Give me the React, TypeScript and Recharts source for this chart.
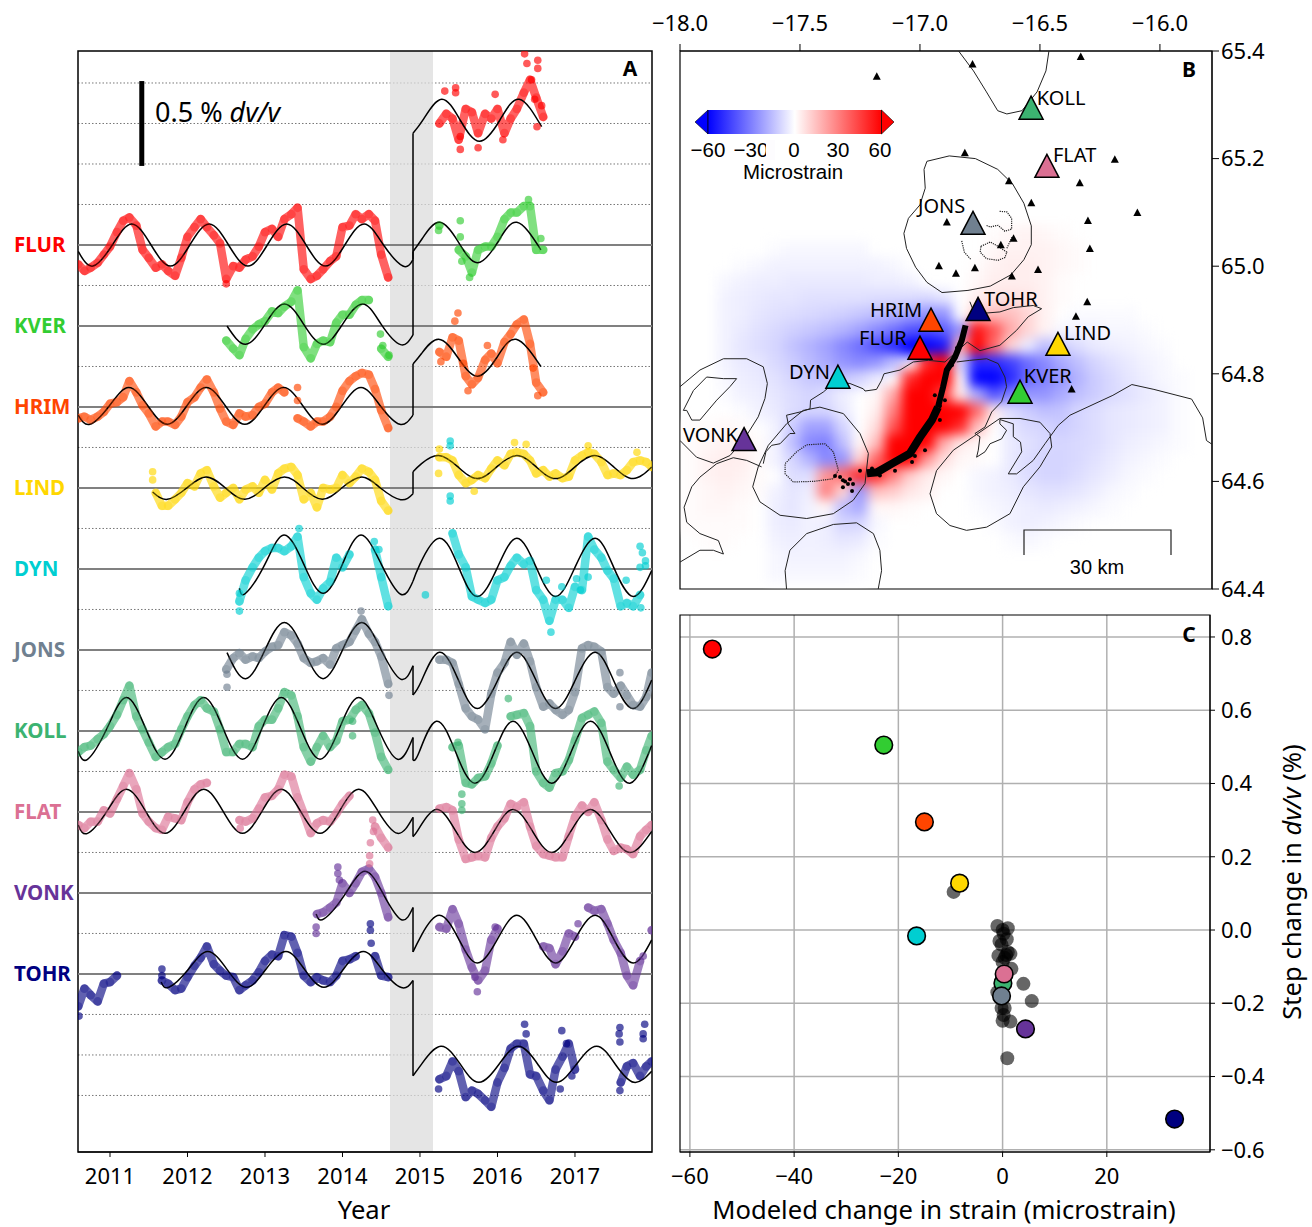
import React from "react";
import {
  LineChart, Line, XAxis, YAxis, CartesianGrid, ReferenceLine, ReferenceArea,
  ScatterChart, Scatter,
} from "recharts";

const FONT = "'Noto Sans', sans-serif";
const n = null;

// ---------- panel A: dv/v time series ----------
const stations = ["FLUR", "KVER", "HRIM", "LIND", "DYN", "JONS", "KOLL", "FLAT", "VONK", "TOHR"];
const stationColors = ["#ff0000", "#32cd32", "#ff4500", "#ffd700", "#00ced1", "#708090", "#3cb371", "#db7093", "#663399", "#000080"];
const stationOffsets = [0, -0.5, -1, -1.5, -2, -2.5, -3, -3.5, -4, -4.5];
const dottedLevels = [1, 0.75, 0.5, 0.25, -0.25, -0.75, -1.25, -1.75, -2.25, -2.75, -3.25, -3.75, -4.25, -4.75, -5, -5.25];
const yearTicks = [2011, 2012, 2013, 2014, 2015, 2016, 2017];

const monthsPre = [
  2010.59, 2010.67, 2010.75, 2010.84, 2010.92, 2011.0, 2011.09, 2011.17, 2011.25, 2011.34, 2011.42, 2011.5,
  2011.59, 2011.67, 2011.75, 2011.84, 2011.92, 2012.0, 2012.09, 2012.17, 2012.25, 2012.34, 2012.42, 2012.5,
  2012.59, 2012.67, 2012.75, 2012.84, 2012.92, 2013.0, 2013.09, 2013.17, 2013.25, 2013.34, 2013.42, 2013.5,
  2013.59, 2013.67, 2013.75, 2013.84, 2013.92, 2014.0, 2014.09, 2014.17, 2014.25, 2014.34, 2014.42, 2014.5, 2014.59,
];
const monthsPost = [
  2015.25, 2015.34, 2015.42, 2015.5, 2015.59, 2015.67, 2015.75, 2015.84, 2015.92,
  2016.0, 2016.09, 2016.17, 2016.25, 2016.34, 2016.42, 2016.5, 2016.59, 2016.67, 2016.75, 2016.84, 2016.92,
  2017.0, 2017.09, 2017.17, 2017.25, 2017.34, 2017.42, 2017.5, 2017.59, 2017.67, 2017.75, 2017.84, 2017.92, 2017.99,
];

const FLUR_PRE = [-.12,-.16,-.14,-.11,-.06,-.01,.08,.15,.17,.12,-.03,-.08,-.14,-.12,-.16,-.19,-.08,.05,.11,.16,.11,.06,.01,-.21,-.13,-.14,-.09,-.07,-.01,.08,.10,.05,.16,.19,.23,-.15,-.21,-.19,-.15,-.10,-.07,.11,.12,.19,.16,.19,.15,-.06,-.20];
const FLUR_POST = [.75,.81,.78,.65,.84,.82,.69,.81,.78,.84,.69,.78,.84,.94,1.02,.91,.79];
const KVER_PRE = [n,n,n,n,n,n,n,n,n,n,n,n,n,n,n,n,n,n,n,n,n,n,n,-.09,-.14,-.18,-.08,-.02,.01,.03,.09,.08,.12,.15,.22,-.13,-.20,-.11,-.09,-.10,.02,.07,.07,.13,.16,.16,n,-.14,-.19];
const KVER_POST = [.62,n,n,.47,.43,.33,.47,.49,.49,.55,.66,.70,.70,.74,.74,.47,.47];
const HRIM_PRE = [-.07,-.06,-.08,-.06,-.03,.02,.03,.06,.16,.09,.01,-.04,-.12,-.09,-.09,-.11,-.06,.03,.06,.12,.17,.09,-.01,-.09,-.11,-.04,-.06,-.05,0,.02,.09,.12,.09,n,-.07,-.09,-.12,-.09,-.09,-.06,0,.10,.16,.19,.21,.20,.11,-.02,-.13];
const HRIM_POST = [.34,.31,.43,.41,.19,.14,.18,.29,.33,.27,.40,.45,.51,.54,.39,.15,.09];
const LIND_PRE = [n,n,n,n,n,n,n,n,n,n,n,n,-.03,-.11,-.11,-.07,-.03,.03,.01,.09,.11,.01,-.06,-.03,0,-.07,-.01,.01,-.03,.05,-.01,.09,.12,.13,.08,-.07,-.03,-.12,0,-.01,0,.08,.03,.07,.12,.10,.05,-.08,-.14];
const LIND_POST = [.19,.19,.17,.08,.03,.05,.08,.06,.12,.17,.14,.21,.22,.21,.17,.09,.11,.07,.09,.06,.07,.17,.20,.22,.21,.16,.08,.09,.08,.11,.16,.17,.16,.13];
const DYN_PRE = [n,n,n,n,n,n,n,n,n,n,n,n,n,n,n,n,n,n,n,n,n,n,n,n,n,-.20,-.07,.01,.07,.11,.13,.13,.11,.14,.20,-.05,-.15,-.19,-.12,-.08,.07,.01,.09,n,n,n,.12,-.05,-.23];
const DYN_POST = [n,n,.22,.09,.01,-.17,-.19,-.21,-.19,-.07,-.05,.02,.07,.03,.05,-.13,-.19,-.32,-.19,-.19,-.24,-.11,-.13,.20,.12,.07,-.01,-.06,-.23,-.21,-.23,-.16];
const JONS_PRE = [n,n,n,n,n,n,n,n,n,n,n,n,n,n,n,n,n,n,n,n,n,n,n,-.12,-.05,-.02,-.06,-.04,-.05,-.01,.02,.03,.11,.09,.04,-.05,-.08,-.07,-.05,-.09,.01,.03,.05,.12,.19,.10,.05,-.04,-.21];
const JONS_POST = [-.06,-.06,-.08,-.21,-.36,-.41,-.43,-.49,-.27,-.14,-.08,.05,-.03,.04,-.07,-.23,-.35,-.33,-.37,-.40,-.37,-.26,.01,.03,.02,-.01,-.23,-.27,-.22,-.28,-.34,-.35,-.29,-.14];
const KOLL_PRE = [-.13,-.10,-.09,-.05,-.02,.03,.10,.19,.28,.09,.01,-.07,-.16,-.13,-.10,-.08,.01,.09,.16,.19,.14,.12,.01,-.13,-.13,-.08,-.08,-.10,.03,.07,.07,.14,.24,.22,.09,-.10,-.19,-.10,-.03,-.10,-.06,.06,.07,.13,.16,.11,-.01,-.16,-.24];
const KOLL_POST = [n,n,-.10,-.09,-.32,-.33,-.29,-.28,-.20,-.09,n,.09,.10,.11,.03,-.25,-.32,-.35,-.26,-.25,-.18,-.06,.08,.10,.12,.05,-.19,-.24,-.29,-.22,-.27,-.24,-.12,-.03];
const FLAT_PRE = [-.08,-.10,-.06,-.06,.01,-.01,.08,.16,.24,.14,-.01,-.06,-.10,-.11,-.03,-.04,-.05,.06,.14,.17,.18,n,n,n,n,-.05,-.06,-.04,.02,.09,.10,.14,.23,.22,.09,-.01,-.13,-.07,-.05,-.06,-.01,.05,.10,n,n,n,-.09,-.16,-.22];
const FLAT_POST = [.02,.03,.01,-.17,-.29,-.28,-.27,-.28,-.16,-.09,-.04,.05,.03,.06,-.09,-.21,-.26,-.27,-.28,-.28,-.15,-.03,.04,0,.06,-.05,-.17,-.24,-.22,-.23,-.26,-.15,-.11,-.08];
const VONK_PRE = [n,n,n,n,n,n,n,n,n,n,n,n,n,n,n,n,n,n,n,n,n,n,n,n,n,n,n,n,n,n,n,n,n,n,n,n,n,-.13,-.12,-.09,-.06,.06,0,.06,.13,.15,.10,0,-.15];
const VONK_POST = [-.21,-.22,-.10,-.19,-.35,-.46,-.54,-.48,-.29,-.22,n,n,n,n,n,n,-.33,-.34,-.44,-.36,-.25,-.27,n,-.09,-.11,-.10,-.19,-.29,-.37,-.51,-.57,-.42,n,-.23];
const TOHR_PRE = [-.20,-.09,-.13,-.17,-.06,-.05,-.01,n,n,n,n,n,n,-.04,-.06,-.10,-.09,-.02,.05,.10,.17,.06,.02,-.01,-.02,-.10,-.07,-.04,.01,.08,.12,.11,.24,.23,.13,-.01,-.05,-.02,-.04,-.05,-.01,.08,.09,.11,n,n,.11,-.01,-.02];
const TOHR_POST = [-.65,-.63,-.54,-.60,-.76,-.72,-.74,-.78,-.82,-.67,-.58,-.46,-.43,-.43,-.62,-.63,-.72,-.78,-.59,-.51,-.43,-.59,n,n,n,n,n,n,-.67,-.57,-.55,-.63,-.57,-.54];

// points that sit off the main trace of each station
const FLUR_EXTRA = [[2015.32,.95],[2015.46,.97],[2015.46,.94],[2015.52,.59],[2015.52,.67],[2015.75,.60],[2016.35,1.18],[2016.38,1.12],[2016.52,1.14],[2016.52,1.09],[2016.57,.86],[2016.51,.73],[2015.97,.93],[2016.07,.65],[2016.44,1.02],[2016.48,.9],[2012.5,-.24]];
const KVER_EXTRA = [[2014.49,-.05],[2015.52,.65],[2015.52,.55],[2015.54,.40],[2015.24,.59],[2016.56,.54],[2015.64,.30],[2016.4,.78],[2014.52,-.12],[2014.6,-.18]];
const HRIM_EXTRA = [[2013.42,.12],[2013.42,.04],[2015.27,.28],[2015.45,.53],[2015.49,.58],[2016.46,.24],[2015.62,.10],[2015.87,.38],[2015.56,.27],[2016.52,.07]];
const LIND_EXTRA = [[2011.55,.10],[2011.55,.05],[2015.24,.09],[2015.70,-.02],[2016.22,.28],[2016.37,.27],[2015.25,.24],[2017.17,.26],[2017.8,.22]];
const DYN_EXTRA = [[2012.67,-.26],[2012.67,-.15],[2013.44,.25],[2014.41,.17],[2014.47,.12],[2015.39,.79],[2015.39,.76],[2015.39,.45],[2015.39,.42],[2017.17,-.05],[2017.66,-.07],[2017.84,.14],[2017.87,.10],[2017.91,.05],[2017.84,.01],[2017.91,.02],[2017.85,-.24],[2016.63,-.07],[2016.83,-.11],[2017.02,-.06],[2017.07,-.13],[2016.69,-.39],[2015.07,-.16]];
const JONS_EXTRA = [[2012.51,-.23],[2012.51,-.15],[2014.24,.24],[2014.6,-.28],[2017.58,-.14],[2017.58,-.35]];
const KOLL_EXTRA = [[2014.13,.06],[2014.13,-.03],[2016.14,.20],[2015.54,-.39],[2015.54,-.45],[2015.54,-.49],[2017.57,-.34],[2015.49,-.07]];
const FLAT_EXTRA = [[2014.39,-.05],[2014.36,-.19],[2014.35,-.27],[2014.35,-.32],[2014.4,-.12],[2012.68,-.10]];
const VONK_EXTRA = [[2013.94,.16],[2013.94,.12],[2013.96,.08],[2013.66,-.21],[2013.66,-.25],[2017.04,-.19],[2015.74,-.61],[2015.97,-.21],[2017.88,-.39],[2015.71,-.52]];
const TOHR_EXTRA = [[2011.67,.03],[2011.67,-.01],[2010.6,-.26],[2014.36,.31],[2014.36,.27],[2014.37,.19],[2016.35,-.31],[2016.37,-.37],[2016.81,-.71],[2016.83,-.35],[2016.89,-.43],[2016.96,-.63],[2017.58,-.33],[2017.57,-.37],[2017.58,-.42],[2017.9,-.31],[2017.88,-.37],[2017.88,-.40],[2017.58,-.72],[2015.24,-.71]];

// seasonal model, before and after the step
const FLUR_FIT_PRE = [[2010.59,-.04],[2010.78,-.13],[2011.03,0],[2011.28,.13],[2011.53,0],[2011.78,-.13],[2012.03,0],[2012.28,.13],[2012.53,0],[2012.78,-.13],[2013.03,0],[2013.28,.13],[2013.53,0],[2013.78,-.13],[2014.03,0],[2014.28,.13],[2014.53,0],[2014.78,-.13],[2014.91,-.09]];
const FLUR_FIT_POST = [[2014.91,.69],[2015.05,.78],[2015.28,.90],[2015.52,.77],[2015.77,.64],[2016.03,.77],[2016.28,.90],[2016.57,.73]];
const KVER_FIT_PRE = [[2012.51,0],[2012.75,-.113],[2013.0,.01],[2013.25,.136],[2013.5,.01],[2013.75,-.113],[2014.0,.01],[2014.26,.136],[2014.5,.01],[2014.75,-.115],[2014.91,-.055]];
const KVER_FIT_POST = [[2014.91,.46],[2015.03,.54],[2015.25,.64],[2015.5,.515],[2015.74,.39],[2016.0,.515],[2016.25,.64],[2016.56,.47]];
const HRIM_FIT_PRE = [[2010.59,-.05],[2010.74,-.107],[2010.99,.006],[2011.24,.12],[2011.49,.006],[2011.74,-.107],[2011.99,.006],[2012.24,.12],[2012.49,.006],[2012.74,-.107],[2012.99,.006],[2013.24,.12],[2013.49,.006],[2013.74,-.107],[2013.99,.006],[2014.24,.12],[2014.49,.006],[2014.74,-.107],[2014.91,-.05]];
const HRIM_FIT_POST = [[2014.91,.265],[2015.02,.33],[2015.24,.418],[2015.49,.304],[2015.74,.19],[2015.99,.304],[2016.24,.418],[2016.56,.25]];
const LIND_FIT_PRE = [[2011.55,-.025],[2011.74,-.07],[2011.99,0],[2012.24,.068],[2012.49,0],[2012.74,-.07],[2012.99,0],[2013.25,.068],[2013.49,0],[2013.74,-.07],[2013.99,0],[2014.25,.068],[2014.49,0],[2014.75,-.072],[2014.91,-.035]];
const LIND_FIT_POST = [[2014.91,.10],[2015.02,.15],[2015.24,.20],[2015.49,.13],[2015.74,.058],[2015.99,.13],[2016.25,.20],[2016.5,.13],[2016.75,.058],[2017.0,.13],[2017.25,.20],[2017.5,.13],[2017.75,.058],[2017.99,.13]];
const DYN_FIT_PRE = [[2012.67,-.12],[2012.75,-.15],[2013.0,.03],[2013.245,.21],[2013.5,.03],[2013.75,-.15],[2014.0,.03],[2014.24,.21],[2014.5,.03],[2014.75,-.156],[2014.91,-.076]];
const DYN_FIT_POST = [[2014.91,-.076],[2015.0,.03],[2015.25,.19],[2015.5,.01],[2015.74,-.17],[2016.0,.01],[2016.25,.19],[2016.5,.01],[2016.75,-.17],[2017.0,.01],[2017.26,.19],[2017.5,.01],[2017.75,-.17],[2017.99,-.01]];
const JONS_FIT_PRE = [[2012.51,-.016],[2012.75,-.177],[2013.0,0],[2013.25,.17],[2013.5,0],[2013.75,-.177],[2014.0,0],[2014.25,.17],[2014.5,0],[2014.75,-.18],[2014.91,-.097]];
const JONS_FIT_POST = [[2014.91,-.278],[2015.02,-.19],[2015.25,-.014],[2015.5,-.19],[2015.74,-.362],[2016.0,-.19],[2016.25,-.014],[2016.5,-.19],[2016.75,-.362],[2017.0,-.19],[2017.26,-.014],[2017.5,-.19],[2017.75,-.362],[2017.99,-.185]];
const KOLL_FIT_PRE = [[2010.59,-.125],[2010.71,-.175],[2010.96,.015],[2011.21,.206],[2011.46,.015],[2011.71,-.175],[2011.96,.015],[2012.21,.206],[2012.46,.015],[2012.71,-.175],[2012.96,.015],[2013.21,.206],[2013.46,.015],[2013.71,-.175],[2013.96,.015],[2014.21,.206],[2014.46,.015],[2014.71,-.175],[2014.91,-.04]];
const KOLL_FIT_POST = [[2014.91,-.18],[2014.99,-.13],[2015.21,.06],[2015.46,-.13],[2015.71,-.323],[2015.96,-.13],[2016.2,.06],[2016.45,-.13],[2016.7,-.323],[2016.95,-.13],[2017.2,.06],[2017.45,-.13],[2017.71,-.323],[2017.99,-.09]];
const FLAT_FIT_PRE = [[2010.59,-.08],[2010.71,-.132],[2010.96,.004],[2011.21,.14],[2011.46,.004],[2011.71,-.132],[2011.96,.004],[2012.21,.14],[2012.46,.004],[2012.71,-.132],[2012.96,.004],[2013.21,.14],[2013.46,.004],[2013.71,-.132],[2013.96,.004],[2014.21,.14],[2014.46,.004],[2014.71,-.132],[2014.91,-.033]];
const FLAT_FIT_POST = [[2014.91,-.152],[2014.99,-.10],[2015.21,.016],[2015.46,-.117],[2015.71,-.25],[2015.96,-.117],[2016.2,.016],[2016.45,-.117],[2016.7,-.25],[2016.95,-.117],[2017.2,.016],[2017.45,-.117],[2017.71,-.25],[2017.99,-.12]];
const VONK_FIT_PRE = [[2013.66,-.13],[2013.76,-.16],[2014.03,-.01],[2014.29,.134],[2014.53,-.01],[2014.76,-.165],[2014.91,-.09]];
const VONK_FIT_POST = [[2014.91,-.364],[2015.02,-.26],[2015.25,-.138],[2015.5,-.285],[2015.74,-.432],[2016.0,-.285],[2016.25,-.138],[2016.5,-.285],[2016.75,-.432],[2017.0,-.285],[2017.26,-.138],[2017.5,-.285],[2017.75,-.432],[2017.99,-.29]];
const TOHR_FIT_PRE = [[2011.66,-.05],[2011.76,-.082],[2012.01,.028],[2012.26,.138],[2012.51,.028],[2012.76,-.082],[2013.01,.028],[2013.27,.138],[2013.51,.028],[2013.76,-.082],[2014.01,.028],[2014.27,.138],[2014.51,.028],[2014.76,-.084],[2014.91,-.04]];
const TOHR_FIT_POST = [[2014.91,-.628],[2015.03,-.55],[2015.27,-.446],[2015.52,-.557],[2015.76,-.669],[2016.02,-.557],[2016.27,-.446],[2016.52,-.557],[2016.76,-.669],[2017.02,-.557],[2017.28,-.446],[2017.52,-.557],[2017.76,-.669],[2017.99,-.60]];

const preSeries = [FLUR_PRE, KVER_PRE, HRIM_PRE, LIND_PRE, DYN_PRE, JONS_PRE, KOLL_PRE, FLAT_PRE, VONK_PRE, TOHR_PRE];
const postSeries = [FLUR_POST, KVER_POST, HRIM_POST, LIND_POST, DYN_POST, JONS_POST, KOLL_POST, FLAT_POST, VONK_POST, TOHR_POST];
const extraSeries = [FLUR_EXTRA, KVER_EXTRA, HRIM_EXTRA, LIND_EXTRA, DYN_EXTRA, JONS_EXTRA, KOLL_EXTRA, FLAT_EXTRA, VONK_EXTRA, TOHR_EXTRA];
const fitPre = [FLUR_FIT_PRE, KVER_FIT_PRE, HRIM_FIT_PRE, LIND_FIT_PRE, DYN_FIT_PRE, JONS_FIT_PRE, KOLL_FIT_PRE, FLAT_FIT_PRE, VONK_FIT_PRE, TOHR_FIT_PRE];
const fitPost = [FLUR_FIT_POST, KVER_FIT_POST, HRIM_FIT_POST, LIND_FIT_POST, DYN_FIT_POST, JONS_FIT_POST, KOLL_FIT_POST, FLAT_FIT_POST, VONK_FIT_POST, TOHR_FIT_POST];

// the rows are stacked by adding each station's offset
const makeRow = (t: number, series: any[], idx: number) => {
  const row: any = { t };
  stations.forEach((s, k) => {
    const v = series[k][idx];
    row[s] = v === null || v === undefined ? null : v + stationOffsets[k];
  });
  return row;
};
const gapRow = { t: 2014.9 };
const tableA = [
  ...monthsPre.map((t, i) => makeRow(t, preSeries, i)),
  gapRow,
  ...monthsPost.map((t, i) => makeRow(t, postSeries, i)),
];
const stacked = (pairs: number[][], k: number) => pairs.map(([t, v]) => ({ t, v: v + stationOffsets[k] }));

function StationTick(props: any) {
  const k = Math.round(-props.payload.value * 2);
  return (
    <text x={14} y={props.y - 1} dominantBaseline="central" fontFamily={FONT} fontWeight={700} fontSize={20.5} fill={stationColors[k]}>
      {stations[k]}
    </text>
  );
}

function PanelA() {
  const tick = { fontFamily: FONT, fontSize: 22, fill: "#000" };
  return (
    <LineChart width={660} height={1227} data={tableA} margin={{ top: 51, right: 8, bottom: 0, left: 0 }} style={{ position: "absolute", left: 0, top: 0 }}>
      <XAxis dataKey="t" type="number" domain={[2010.587, 2017.994]} allowDataOverflow ticks={yearTicks} tick={tick} tickSize={5} tickMargin={11} height={75} stroke="#000" />
      <YAxis type="number" domain={[-5.599, 1.1975]} allowDataOverflow ticks={stationOffsets} interval={0} tick={<StationTick />} tickLine={false} axisLine={false} width={78} />
      <CartesianGrid vertical={false} horizontalValues={dottedLevels} stroke="#777" strokeDasharray="1.5 2" />
      {stationOffsets.map((y) => (
        <ReferenceLine key={y} y={y} stroke="#808080" strokeWidth={2} />
      ))}
      {stations.map((s, k) => (
        <Line key={s} dataKey={s} type="linear" stroke={stationColors[k]} strokeOpacity={0.62} strokeWidth={8.5} strokeLinecap="round" strokeLinejoin="round" dot={{ r: 4.4, fill: stationColors[k], fillOpacity: 0.3, stroke: "none" }} connectNulls={false} isAnimationActive={false} />
      ))}
      {stations.map((s, k) => (
        <Line key={s + "x"} data={stacked(extraSeries[k], k)} dataKey="v" type="linear" stroke="none" dot={{ r: 3.8, fill: stationColors[k], fillOpacity: 0.65, stroke: "none" }} isAnimationActive={false} />
      ))}
      {stations.map((s, k) => {
        const pre = stacked(fitPre[k], k);
        const post = stacked(fitPost[k], k);
        return [
          <Line key={s + "a"} data={pre} dataKey="v" type="natural" stroke="#000" strokeWidth={1.5} dot={false} isAnimationActive={false} />,
          <Line key={s + "b"} data={[pre[pre.length - 1], post[0]]} dataKey="v" type="linear" stroke="#000" strokeWidth={1.5} dot={false} isAnimationActive={false} />,
          <Line key={s + "c"} data={post} dataKey="v" type="natural" stroke="#000" strokeWidth={1.5} dot={false} isAnimationActive={false} />,
        ];
      })}
      <ReferenceLine segment={[{ x: 2011.41, y: 1.012 }, { x: 2011.41, y: 0.488 }]} stroke="#000" strokeWidth={5} />
      <ReferenceArea x1={2014.613} x2={2015.168} y1={-5.599} y2={1.1975} fill="#dcdcdc" fillOpacity={0.75} stroke="none" />
      <ReferenceArea x1={2010.587} x2={2017.994} y1={-5.599} y2={1.1975} fill="none" stroke="#000" strokeWidth={1.5} />
    </LineChart>
  );
}

// ---------- panel B: map ----------
const lonTicks = [-18, -17.5, -17, -16.5, -16];
const latTicks = [64.4, 64.6, 64.8, 65.0, 65.2, 65.4];

const gridLons = [-17.95,-17.88,-17.81,-17.74,-17.67,-17.6,-17.53,-17.46,-17.39,-17.32,-17.25,-17.18,-17.11,-17.04,-16.97,-16.9,-16.83,-16.76,-16.69,-16.62,-16.55,-16.48,-16.41,-16.34,-16.27,-16.2,-16.13,-16.06,-15.99,-15.92,-15.85];
const gridLats = [65.06,65.03,65.0,64.97,64.94,64.91,64.88,64.85,64.82,64.79,64.76,64.73,64.7,64.67,64.64,64.61,64.58,64.55,64.52,64.49,64.46,64.43];
const strainRows = [
  [0,0,0,0,0,0,0,0,0,0,0,0,0,0,0,0,0,0,1,2,3,2,1,0,0,0,0,0,0,0,0],
  [0,0,0,0,0,-1,-2,-2,-2,-2,-2,0,0,0,0,0,0,0,2,3,3,3,2,1,0,0,0,0,0,0,0],
  [0,0,0,-1,-2,-3,-3,-3,-3,-3,-3,-3,-2,0,0,0,0,1,3,4,4,3,2,1,0,0,0,0,0,0,0],
  [0,0,-2,-3,-4,-4,-5,-5,-5,-5,-5,-4,-4,-3,0,0,0,2,4,4,4,3,1,0,0,0,0,0,0,0,0],
  [0,0,-3,-4,-5,-6,-6,-7,-7,-7,-7,-8,-8,-8,-9,-6,0,4,6,7,6,3,1,0,0,0,0,0,0,0,0],
  [0,0,-3,-4,-6,-7,-8,-9,-10,-11,-13,-15,-18,-22,-25,-25,0,12,15,15,10,3,0,-1,-1,-1,-1,0,0,0,0],
  [0,0,-3,-5,-7,-9,-11,-13,-15,-18,-22,-27,-33,-40,-42,-38,-25,55,40,20,10,3,-2,-3,-3,-2,-2,-1,0,0,0],
  [0,0,-3,-6,-8,-10,-14,-18,-22,-28,-34,-42,-50,-60,-60,-55,20,60,35,10,-5,-15,-12,-8,-5,-4,-3,-2,-1,0,0],
  [0,0,-3,-5,-6,-9,-12,-16,-20,-25,-28,-25,-15,0,50,60,-10,-50,-50,-45,-35,-28,-20,-15,-10,-7,-5,-3,-2,0,0],
  [0,0,-2,-4,-5,-7,-10,-13,-14,-14,-10,-5,0,50,60,60,0,-60,-60,-50,-35,-30,-25,-18,-12,-9,-6,-4,-2,-1,0],
  [0,0,-1,-3,-4,-6,-8,-10,-8,-4,0,2,20,60,60,45,5,-20,-40,-30,-25,-25,-20,-15,-12,-9,-7,-5,-3,-1,0],
  [0,0,0,-1,-3,-5,-8,-10,-10,-5,0,4,30,60,60,60,60,35,5,-8,-12,-15,-14,-10,-8,-6,-5,-4,-3,-1,0],
  [1,1,2,1,0,-3,-12,-22,-22,-10,0,8,40,60,60,60,50,15,0,-6,-9,-10,-12,-10,-8,-6,-5,-4,-3,-1,0],
  [1,2,3,3,1,-3,-15,-28,-30,-15,2,15,60,60,60,20,5,2,0,-5,-7,-9,-10,-9,-8,-6,-4,-3,-2,-1,0],
  [1,3,4,4,1,-3,-10,-18,-28,-25,10,35,60,60,25,8,2,1,0,-5,-8,-10,-10,-9,-7,-5,-3,-2,-1,0,0],
  [1,3,4,3,1,0,-8,-8,25,35,50,50,30,12,5,2,0,-2,-3,-5,-8,-10,-10,-8,-6,-4,-2,-1,0,0,0],
  [1,2,3,2,1,-3,-6,-4,30,10,-25,15,12,6,3,0,0,-2,-3,-4,-6,-7,-7,-6,-4,-2,-1,0,0,0,0],
  [1,2,2,1,0,-4,-6,-3,2,-15,-20,2,2,1,0,0,0,-1,-2,-3,-4,-5,-4,-3,-2,-1,0,0,0,0,0],
  [1,1,1,1,0,-4,-5,-3,-4,-10,-10,-2,0,0,0,0,0,0,-1,-3,-4,-3,-2,-1,0,0,0,0,0,0,0],
  [0,1,1,0,0,-3,-4,-3,-4,-6,-5,-1,0,0,0,0,0,0,0,-1,-2,-1,0,0,0,0,0,0,0,0,0],
  [0,0,0,0,0,-2,-3,-3,-3,-3,-2,0,0,0,0,0,0,0,0,0,0,0,0,0,0,0,0,0,0,0,0],
  [0,0,0,0,0,-2,-2,-2,-2,-2,-1,0,0,0,0,0,0,0,0,0,0,0,0,0,0,0,0,0,0,0,0],
];
const heatCells = strainRows.flatMap((row, r) =>
  row.map((strain, c) => ({ lon: gridLons[c], lat: gridLats[r], strain })).filter((d) => d.strain !== 0),
);
const strainColor = (v: number) => {
  const f = Math.round(255 * (1 - Math.min(Math.abs(v), 60) / 60));
  return v < 0 ? `rgb(${f},${f},255)` : `rgb(255,${f},${f})`;
};

// outlines, [lon, lat]
const NORTH_GLACIER = [[-16.839,65.4],[-16.777,65.363],[-16.723,65.324],[-16.676,65.289],[-16.638,65.283],[-16.575,65.289],[-16.512,65.324],[-16.475,65.363],[-16.4625,65.4]];
const ASKJA_RING = [[-16.971,65.195],[-16.878,65.205],[-16.769,65.2],[-16.676,65.18],[-16.614,65.153],[-16.567,65.117],[-16.536,65.075],[-16.536,65.04],[-16.567,65.012],[-16.621,64.984],[-16.707,64.963],[-16.8,64.955],[-16.908,64.951],[-16.971,64.97],[-17.018,64.998],[-17.056,65.033],[-17.067,65.061],[-17.048,65.089],[-17.0,65.114],[-16.978,65.145],[-16.983,65.18],[-16.971,65.195]];
const ICE_EDGE = [[-17.653,64.633],[-17.642,64.655],[-17.618,64.667],[-17.583,64.67],[-17.542,64.689],[-17.521,64.689],[-17.549,64.707],[-17.556,64.723],[-17.5,64.729],[-17.458,64.735],[-17.456,64.751],[-17.403,64.766],[-17.354,64.785],[-17.292,64.782],[-17.236,64.772],[-17.229,64.768],[-17.181,64.771],[-17.16,64.788],[-17.15,64.8],[-17.083,64.807],[-17.028,64.822],[-16.965,64.825],[-16.896,64.822],[-16.847,64.841],[-16.803,64.859],[-16.75,64.843],[-16.667,64.853],[-16.597,64.881],[-16.549,64.906],[-16.493,64.921],[-16.528,64.927],[-16.611,64.923],[-16.667,64.915],[-16.722,64.913],[-16.778,64.918],[-16.792,64.934]];
const KVERK_EDGE = [[-16.847,64.822],[-16.792,64.825],[-16.722,64.828],[-16.674,64.819],[-16.646,64.794],[-16.639,64.776],[-16.66,64.748],[-16.701,64.729],[-16.729,64.701],[-16.771,64.689],[-16.75,64.683],[-16.757,64.658],[-16.764,64.645],[-16.729,64.655],[-16.708,64.67],[-16.66,64.679],[-16.639,64.695],[-16.667,64.707],[-16.667,64.715],[-16.611,64.707],[-16.611,64.683],[-16.581,64.673],[-16.576,64.655],[-16.632,64.614],[-16.597,64.614],[-16.528,64.639],[-16.479,64.67],[-16.424,64.704],[-16.375,64.723],[-16.196,64.76],[-16.117,64.78],[-16.025,64.771],[-15.868,64.753],[-15.822,64.718],[-15.806,64.676],[-15.783,64.669]];
const SOUTH_LOOP = [[-16.667,64.717],[-16.583,64.717],[-16.5,64.71],[-16.458,64.689],[-16.451,64.664],[-16.5,64.627],[-16.569,64.59],[-16.625,64.54],[-16.722,64.515],[-16.806,64.509],[-16.875,64.518],[-16.931,64.54],[-16.958,64.577],[-16.931,64.62],[-16.861,64.658],[-16.778,64.683],[-16.667,64.717]];
const BARD_RING = [[-17.417,64.738],[-17.319,64.726],[-17.25,64.689],[-17.215,64.652],[-17.229,64.596],[-17.278,64.565],[-17.361,64.54],[-17.472,64.531],[-17.583,64.537],[-17.667,64.562],[-17.697,64.59],[-17.674,64.627],[-17.632,64.667],[-17.556,64.707],[-17.486,64.732],[-17.417,64.738]];
const BOTTOM_RING = [[-17.556,64.4],[-17.562,64.434],[-17.542,64.472],[-17.472,64.503],[-17.361,64.52],[-17.264,64.523],[-17.194,64.503],[-17.167,64.472],[-17.16,64.434],[-17.174,64.4]];
const WEST_RING = [[-18,64.776],[-17.917,64.807],[-17.819,64.828],[-17.722,64.828],[-17.653,64.813],[-17.636,64.782],[-17.646,64.754],[-17.674,64.72],[-17.736,64.676],[-17.792,64.648],[-17.861,64.634],[-17.931,64.645],[-18,64.676]];
const WEST_INNER = [[-17.986,64.732],[-17.944,64.769],[-17.889,64.794],[-17.819,64.791],[-17.764,64.791],[-17.792,64.776],[-17.847,64.751],[-17.917,64.714],[-17.951,64.714],[-17.972,64.732],[-17.986,64.732]];
const WEST_COAST = [[-17.66,64.627],[-17.722,64.639],[-17.778,64.644],[-17.847,64.633],[-17.917,64.608],[-17.951,64.59],[-17.983,64.552],[-17.972,64.524],[-17.917,64.503],[-17.84,64.49],[-17.819,64.465],[-17.861,64.472],[-17.917,64.472],[-18,64.45]];
const outlines = [NORTH_GLACIER, ASKJA_RING, ICE_EDGE, KVERK_EDGE, SOUTH_LOOP, BARD_RING, BOTTOM_RING, WEST_RING, WEST_INNER, WEST_COAST];

const BARD_CALDERA = [[-17.472,64.668],[-17.396,64.67],[-17.361,64.655],[-17.34,64.621],[-17.361,64.605],[-17.444,64.6],[-17.528,64.599],[-17.562,64.614],[-17.562,64.633],[-17.514,64.655],[-17.472,64.668]];
const ASKJA_ARC_A = [[-16.668,65.102],[-16.638,65.101],[-16.618,65.089],[-16.618,65.069],[-16.646,65.065],[-16.675,65.076],[-16.707,65.073],[-16.725,65.076]];
const ASKJA_ARC_B = [[-16.826,65.047],[-16.815,65.026],[-16.787,65.012]];
const ASKJA_LAKE = [[-16.746,65.037],[-16.707,65.045],[-16.675,65.037],[-16.638,65.026],[-16.646,65.016],[-16.675,65.011],[-16.723,65.014],[-16.749,65.026],[-16.746,65.037]];
const ASKJA_ARC_C = [[-16.617,65.054],[-16.638,65.033]];
const dashedOutlines = [BARD_CALDERA, ASKJA_ARC_A, ASKJA_ARC_B, ASKJA_LAKE, ASKJA_ARC_C];

const FISSURE_UPPER = [[-16.81,64.89],[-16.826,64.862],[-16.854,64.831],[-16.888,64.807],[-16.904,64.775],[-16.925,64.738]];
const FISSURE_LOWER = [[-16.925,64.738],[-16.95,64.714],[-17.0,64.682],[-17.042,64.652],[-17.113,64.634],[-17.179,64.617],[-17.221,64.615]];
const QUAKES = [[-17.333,64.608],[-17.312,64.6],[-17.292,64.604],[-17.279,64.595],[-17.321,64.602],[-17.3,64.595],[-17.354,64.61],[-17.321,64.589],[-17.283,64.582],[-17.25,64.62],[-17.2,64.624],[-17.146,64.624],[-17.083,64.639],[-17.021,64.647],[-16.979,64.658],[-17.033,64.636],[-16.967,64.699],[-16.917,64.714],[-16.896,64.751],[-16.938,64.76],[-16.867,64.816],[-16.846,64.848],[-16.917,64.74],[-17.104,64.62],[-17.167,64.611]];
const VOLCANOES = [[-17.18,65.352],[-16.781,65.375],[-16.33,65.389],[-16.813,65.21],[-16.629,65.158],[-16.536,65.117],[-16.334,65.154],[-16.188,65.198],[-16.094,65.099],[-16.3,65.084],[-16.292,65.032],[-16.888,65.081],[-16.663,65.039],[-16.61,65.051],[-16.921,65.0],[-16.85,64.986],[-16.771,64.996],[-16.617,64.981],[-16.508,64.993],[-16.303,64.933],[-16.35,64.906],[-16.368,64.771]];

const stationLons = [-17.0, -16.583, -16.954, -16.425, -17.342, -16.779, -16.537, -16.471, -17.733, -16.758];
const stationLats = [64.844, 64.762, 64.896, 64.851, 64.79, 65.076, 65.29, 65.182, 64.674, 64.916];
const labelLons = [-17.254, -16.567, -17.208, -16.4, -17.546, -17.008, -16.513, -16.446, -17.988, -16.733];
const labelLats = [64.868, 64.797, 64.92, 64.877, 64.805, 65.112, 65.314, 65.207, 64.687, 64.94];

const toPts = (pairs: number[][]) => pairs.map(([lon, lat]) => ({ lon, lat }));
const stationPts = stations.map((name, k) => ({ lon: stationLons[k], lat: stationLats[k], k }));
const labelPts = stations.map((name, k) => ({ lon: labelLons[k], lat: labelLats[k], name }));

const NoDot = () => <g />;
const HeatCell = (p: any) => <rect x={p.cx - 9} y={p.cy - 9} width={18} height={18} fill={strainColor(p.payload.strain)} />;
const SmallTri = (p: any) => <polygon points={`${p.cx},${p.cy - 4.5} ${p.cx + 4},${p.cy + 3} ${p.cx - 4},${p.cy + 3}`} fill="#000" />;
const BigTri = (p: any) => (
  <polygon points={`${p.cx},${p.cy - 14} ${p.cx + 12},${p.cy + 9} ${p.cx - 12},${p.cy + 9}`} fill={stationColors[p.payload.k]} stroke="#000" strokeWidth={1.5} strokeLinejoin="miter" />
);
const QuakeDot = (p: any) => <circle cx={p.cx} cy={p.cy} r={2} fill="#000" />;
const StationLabel = (p: any) => (
  <text x={p.cx} y={p.cy} dominantBaseline="central" fontFamily={FONT} fontSize={20} fill="#000">{p.payload.name}</text>
);

const minusFmt = (digits: number) => (v: number) => v.toFixed(digits).replace("-", "\u2212");

function PanelB() {
  const tick = { fontFamily: FONT, fontSize: 22, fill: "#000" };
  return (
    <ScatterChart width={672} height={612} margin={{ top: 0, right: 0, bottom: 23, left: 40 }} style={{ position: "absolute", left: 640, top: 0 }}>
      <XAxis dataKey="lon" type="number" orientation="top" domain={[-18, -15.783]} allowDataOverflow ticks={lonTicks} interval={0} tickFormatter={minusFmt(1)} tick={tick} tickSize={7} tickMargin={13} height={51} stroke="#000" />
      <YAxis dataKey="lat" type="number" orientation="right" domain={[64.4, 65.4]} allowDataOverflow ticks={latTicks} interval={0} tickFormatter={minusFmt(1)} tick={tick} tickSize={7} width={100} stroke="#000" />
      <Scatter data={heatCells} className="heat" shape={<HeatCell />} isAnimationActive={false} />
      {outlines.map((o, i) => (
        <Scatter key={"o" + i} data={toPts(o)} shape={<NoDot />} line={{ stroke: "#222", strokeWidth: 1 }} isAnimationActive={false} />
      ))}
      {dashedOutlines.map((o, i) => (
        <Scatter key={"d" + i} data={toPts(o)} shape={<NoDot />} line={{ stroke: "#222", strokeWidth: 1.2, strokeDasharray: "1.2 1" }} isAnimationActive={false} />
      ))}
      <Scatter data={toPts(FISSURE_UPPER)} shape={<NoDot />} line={{ stroke: "#000", strokeWidth: 6 }} isAnimationActive={false} />
      <Scatter data={toPts(FISSURE_LOWER)} shape={<NoDot />} line={{ stroke: "#000", strokeWidth: 8 }} isAnimationActive={false} />
      <Scatter data={toPts(QUAKES)} shape={<QuakeDot />} isAnimationActive={false} />
      <Scatter data={toPts(VOLCANOES)} shape={<SmallTri />} isAnimationActive={false} />
      <Scatter data={stationPts} shape={<BigTri />} isAnimationActive={false} />
      <Scatter data={labelPts} shape={<StationLabel />} isAnimationActive={false} />
      <ReferenceArea x1={-18} x2={-15.783} y1={64.4} y2={65.4} fill="none" stroke="#000" strokeWidth={1.2} />
    </ScatterChart>
  );
}

// ---------- panel C: step change against strain ----------
const strainTicks = [-60, -40, -20, 0, 20];
const stepTicks = [-0.6, -0.4, -0.2, 0, 0.2, 0.4, 0.6, 0.8];
const otherStrain = [-9.4, -1.0, 0, 0.2, 1.0, -0.6, 0.8, -0.2, -0.8, 0.7, 1.5, 0.4, 0, 1.0, 1.7, 4.0, 5.6, -1.0, 0.4, -0.2, 0.2, 0, 1.5, 0.9];
const otherStep = [0.104, 0.011, 0, -0.01, 0.005, -0.03, -0.025, -0.04, -0.07, -0.068, -0.065, -0.076, -0.087, -0.06, -0.106, -0.147, -0.194, -0.17, -0.213, -0.213, -0.232, -0.248, -0.25, -0.35];
const stationStrain = [-55.7, -22.8, -15, -8.25, -16.5, 0.06, -0.2, 0.3, 4.4, 33];
const stationStep = [0.767, 0.505, 0.295, 0.128, -0.016, -0.145, -0.18, -0.12, -0.27, -0.516];
const stationColorsC = ["#ff0000", "#32cd32", "#ff4500", "#ffd700", "#00ced1", "#3cb371", "#708090", "#db7093", "#663399", "#000080"];

const otherPts = otherStrain.map((strain, i) => ({ strain, step: otherStep[i] }));
const stationPtsC = stationStrain.map((strain, i) => ({ strain, step: stationStep[i], k: i }));
const GreyDot = (p: any) => <circle cx={p.cx} cy={p.cy} r={7} fill="#000" fillOpacity={0.6} />;
const StationDot = (p: any) => <circle cx={p.cx} cy={p.cy} r={8.8} fill={stationColorsC[p.payload.k]} stroke="#000" strokeWidth={1.6} />;

function PanelC() {
  const tick = { fontFamily: FONT, fontSize: 22, fill: "#000" };
  return (
    <ScatterChart width={652} height={627} margin={{ top: 15, right: 0, bottom: 0, left: 20 }} style={{ position: "absolute", left: 660, top: 600 }}>
      <XAxis dataKey="strain" type="number" domain={[-61.9, 39.8]} allowDataOverflow ticks={strainTicks} tickFormatter={minusFmt(0)} tick={tick} tickSize={5} tickMargin={11} height={75} stroke="#000" />
      <YAxis dataKey="step" type="number" orientation="right" domain={[-0.606, 0.86]} allowDataOverflow ticks={stepTicks} interval={0} tickFormatter={minusFmt(1)} tick={tick} tickSize={5} tickMargin={6} width={102} stroke="#000" />
      <CartesianGrid stroke="#b0b0b0" strokeWidth={1.5} horizontalValues={stepTicks} verticalValues={strainTicks} />
      <Scatter data={otherPts} shape={<GreyDot />} isAnimationActive={false} />
      <Scatter data={stationPtsC} shape={<StationDot />} isAnimationActive={false} />
      <ReferenceArea x1={-61.9} x2={39.8} y1={-0.606} y2={0.86} fill="none" stroke="#000" strokeWidth={1.2} />
    </ScatterChart>
  );
}

// ---------- texts and legends that sit over the panels ----------
const colorbarLabels = ["\u221260", "\u221230", "0", "30", "60"];
const colorbarLabelX = [708, 751, 794, 838, 880];

function Overlay() {
  const t = { fontFamily: FONT, fill: "#000" };
  const sans = { fontFamily: "'Liberation Sans', sans-serif", fill: "#000" };
  return (
    <svg width={1312} height={1227} style={{ position: "absolute", left: 0, top: 0, pointerEvents: "none" }}>
      <defs>
        <linearGradient id="bwr" x1="0" x2="1" y1="0" y2="0">
          <stop offset="0" stopColor="#0000ff" />
          <stop offset="0.5" stopColor="#ffffff" />
          <stop offset="1" stopColor="#ff0000" />
        </linearGradient>
      </defs>
      <text x={155} y={122} fontSize={27} {...t}>0.5 % <tspan fontStyle="italic">dv/v</tspan></text>
      <text x={630} y={76} fontSize={21} fontWeight={700} textAnchor="middle" {...t}>A</text>
      <text x={1189} y={77} fontSize={21} fontWeight={700} textAnchor="middle" {...t}>B</text>
      <text x={1189} y={642} fontSize={21} fontWeight={700} textAnchor="middle" {...t}>C</text>
      <text x={364} y={1219} fontSize={25.6} textAnchor="middle" {...t}>Year</text>
      <text x={944} y={1219} fontSize={25.6} textAnchor="middle" {...t}>Modeled change in strain (microstrain)</text>
      <text x={1301} y={882} fontSize={25.6} textAnchor="middle" transform="rotate(-90 1301 882)" {...t}>
        Step change in <tspan fontStyle="italic">dv/v</tspan> (%)
      </text>
      <polygon points="695,122 708,110 708,134" fill="#0000ff" stroke="#000" strokeWidth={0.6} />
      <polygon points="894,122 881.5,110 881.5,134" fill="#ff0000" stroke="#000" strokeWidth={0.6} />
      <rect x={708} y={110} width={173.5} height={24} fill="url(#bwr)" stroke="none" />
      <path d="M708 110 V134 M881.5 110 V134" stroke="#000" strokeWidth={0.7} />
      {colorbarLabels.map((s, i) => (
        <text key={s} x={colorbarLabelX[i]} y={157} fontSize={20.5} textAnchor="middle" {...sans}>{s}</text>
      ))}
      <rect x={766} y={140} width={9} height={20} fill="#fdfcfe" />
      <text x={793} y={179} fontSize={20.5} textAnchor="middle" {...sans}>Microstrain</text>
      <path d="M1024 555 V530 H1171 V555" fill="none" stroke="#222" strokeWidth={1.2} />
      <text x={1097} y={574} fontSize={20} textAnchor="middle" {...sans}>30 km</text>
    </svg>
  );
}

export default function App() {
  return (
    <div style={{ position: "absolute", left: 0, top: 0, width: 1312, height: 1227, background: "#fff", overflow: "hidden" }}>
      <style>{`.heat { filter: blur(6px); }`}</style>
      <PanelA />
      <PanelB />
      <PanelC />
      <Overlay />
    </div>
  );
}
